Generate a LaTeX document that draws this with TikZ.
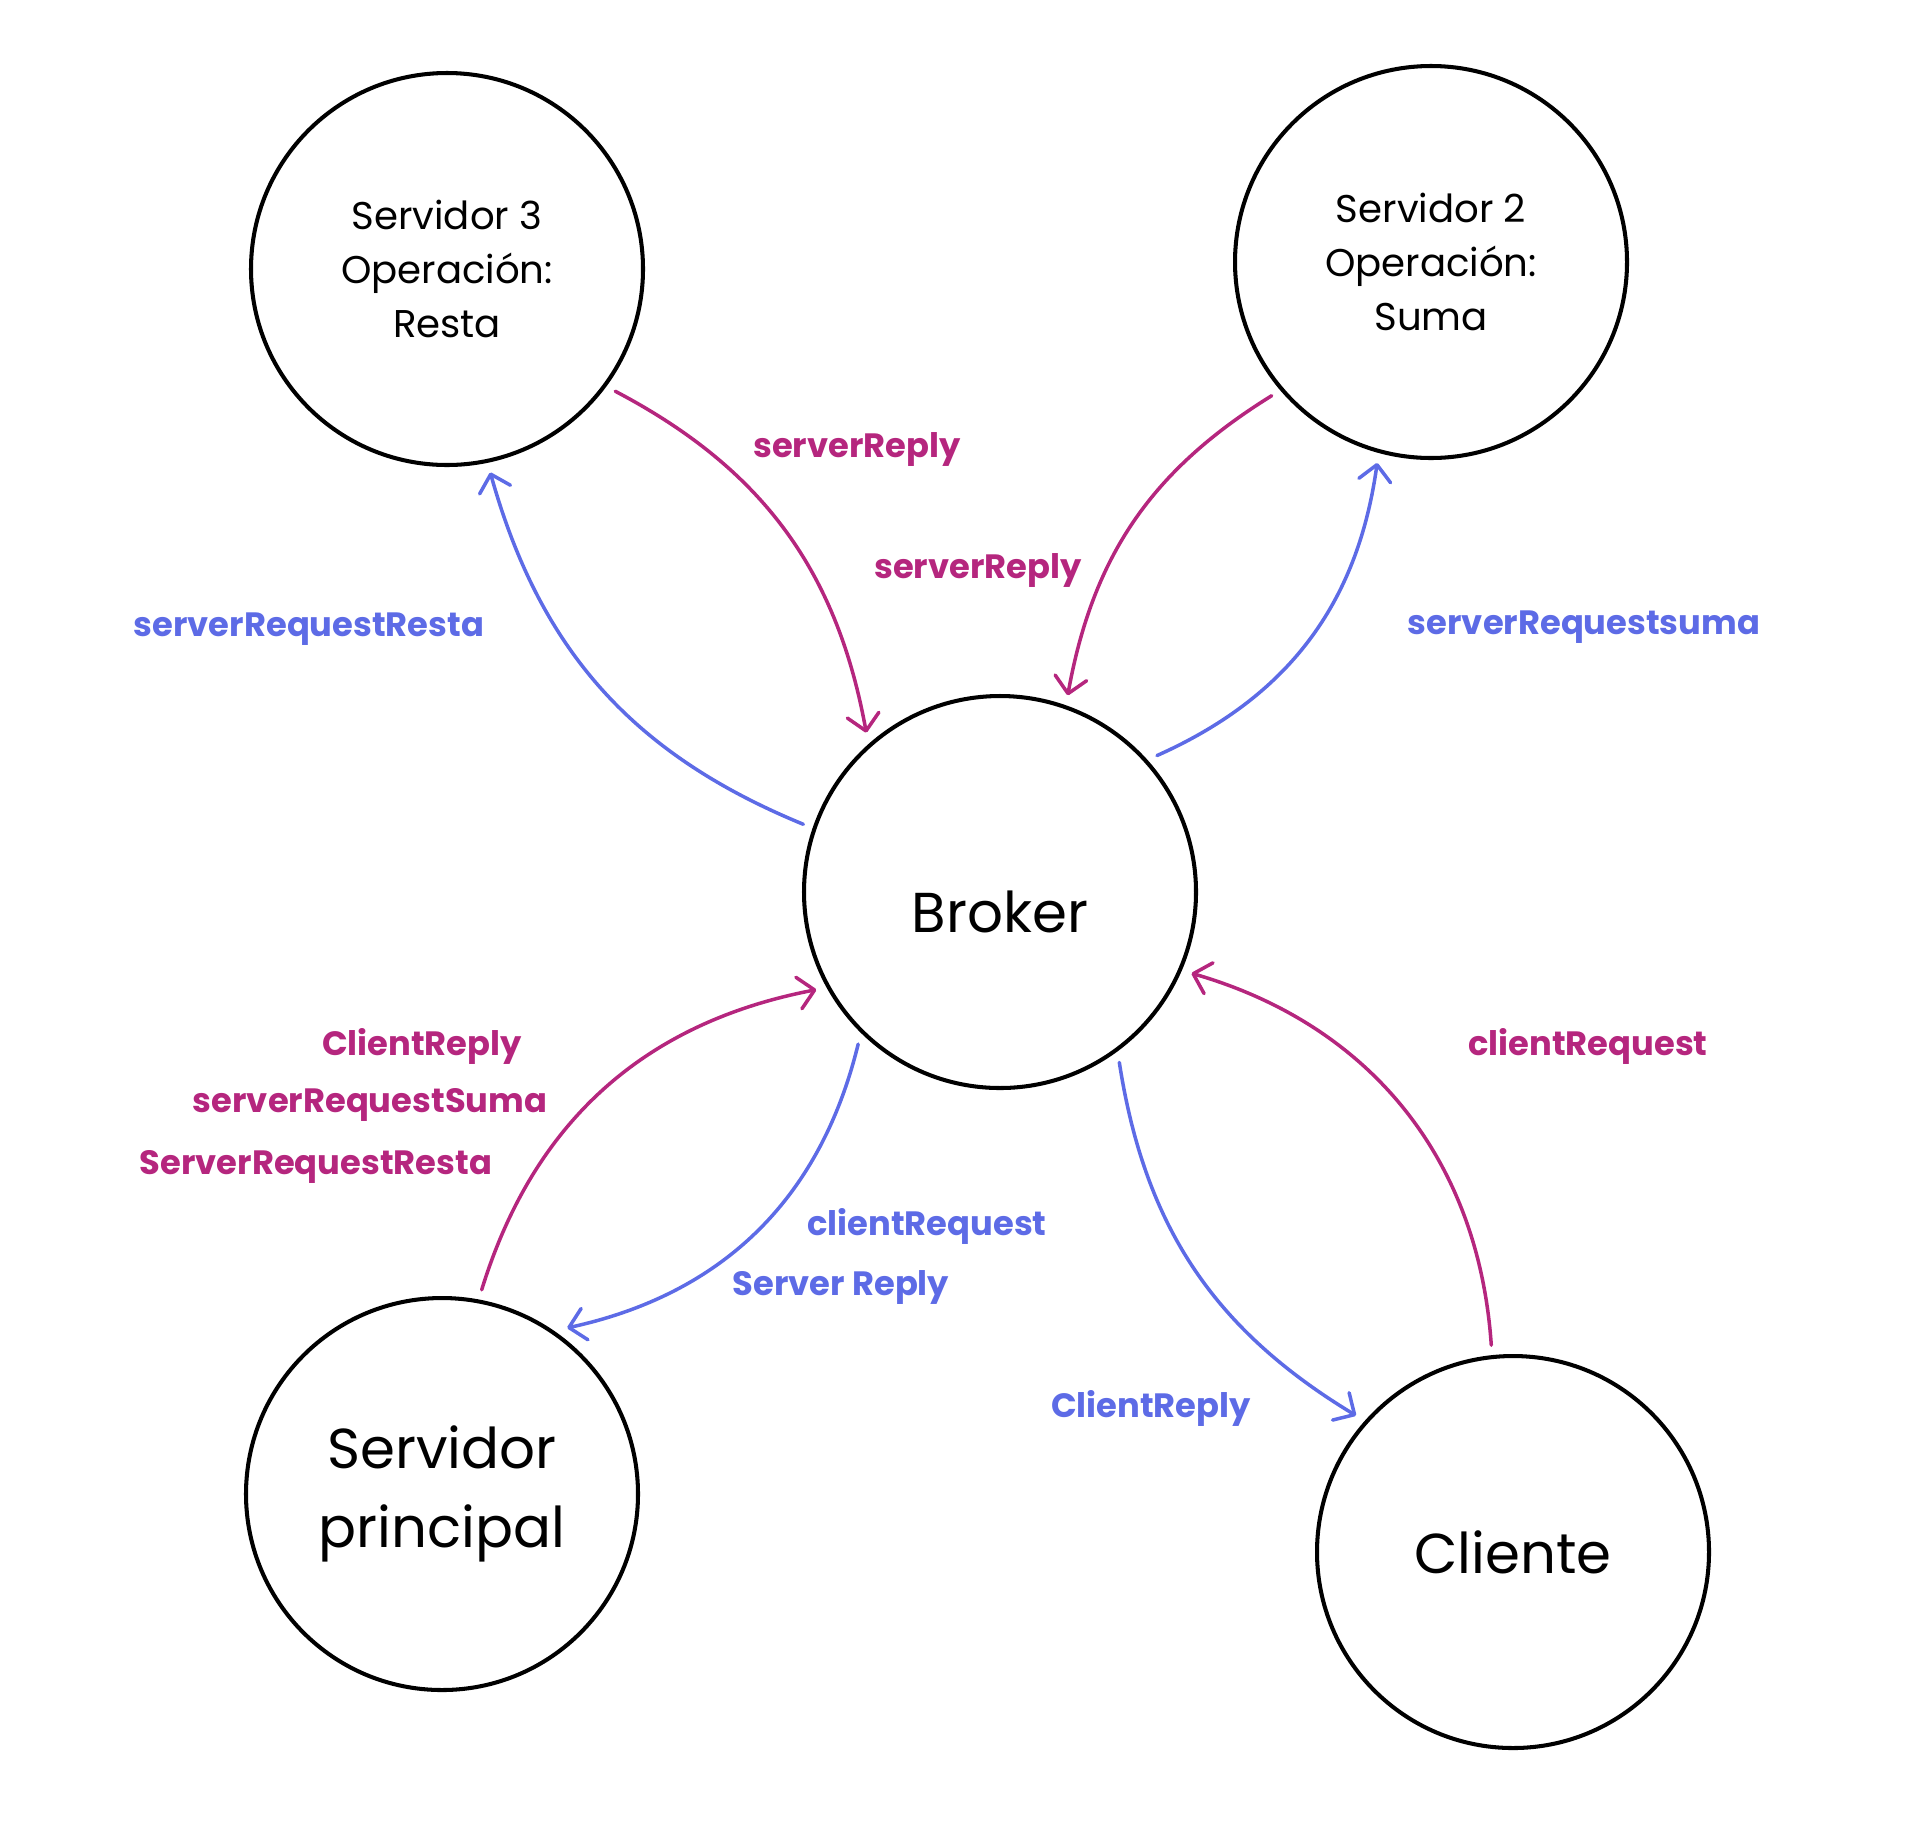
\documentclass[tikz,border=0pt]{standalone}
\usepackage{fontspec}
\setmainfont{Poppins}
\usetikzlibrary{arrows.meta}
\definecolor{rosa}{RGB}{181,38,126}
\definecolor{azul}{RGB}{93,107,230}
\begin{document}
\begin{tikzpicture}[>={Straight Barb[length=1.6mm,width=3.2mm,round]},
  nodo/.style={circle, draw, line width=1.15pt, minimum size=3.92cm, inner sep=0pt, outer sep=0.12cm, align=center},
  chico/.style={font=\fontsize{11}{15.4}\selectfont},
  grande/.style={font=\fontsize{16}{22.5}\selectfont},
  entra/.style={->, rosa, line width=1pt, line cap=round},
  sale/.style={->, azul, line width=1pt, line cap=round},
  etiq/.style={font=\bfseries\fontsize{9.6}{12}\selectfont}]
\useasboundingbox (0,0) rectangle (19.12,-18.21);
\node[nodo, chico] (s3) at (4.47,-2.69) {Servidor 3\\Operación:\\Resta};
\node[nodo, chico] (s2) at (14.31,-2.62) {Servidor 2\\Operación:\\Suma};
\node[nodo, grande] (broker) at (10.00,-8.92) {\raisebox{-0.4cm}[0pt][0pt]{Broker}};
\node[nodo, grande] (sp) at (4.42,-14.94) {Servidor\\principal};
\node[nodo, grande] (cliente) at (15.13,-15.52) {Cliente};
\draw[entra] (s3.-36) to[bend left=26] (broker.130);
\draw[sale] (broker.161) to[bend left=26] (s3.-78);
\draw[entra] (s2.-140) to[bend right=24] (broker.71);
\draw[sale] (broker.41) to[bend right=29] (s2.-105);
\draw[entra] (sp.79) to[bend left=31] (broker.-152);
\draw[sale] (broker.-133) to[bend left=32] (sp.53);
\draw[sale] (broker.-55) to[bend right=25] (cliente.139);
\draw[entra] (cliente.96) to[bend right=35] (broker.-23);
\node[etiq, rosa] (l1) at (8.57,-4.49) {serverReply};
\node[etiq, azul] (l2) at (3.09,-6.29) {serverRequestResta};
\node[etiq, rosa] (l3) at (9.78,-5.70) {serverReply};
\node[etiq, azul] (l4) at (15.84,-6.27) {serverRequestsuma};
\node[etiq, rosa] (l5a) at (4.22,-10.46) {ClientReply};
\node[etiq, rosa] (l5b) at (3.70,-11.05) {serverRequestSuma};
\node[etiq, rosa] (l5c) at (3.16,-11.67) {ServerRequestResta};
\node[etiq, azul] (l6a) at (9.27,-12.26) {clientRequest};
\node[etiq, azul] (l6b) at (8.41,-12.87) {Server Reply};
\node[etiq, azul] (l7) at (11.51,-14.08) {ClientReply};
\node[etiq, rosa] (l8) at (15.88,-10.46) {clientRequest};
\end{tikzpicture}
\end{document}
